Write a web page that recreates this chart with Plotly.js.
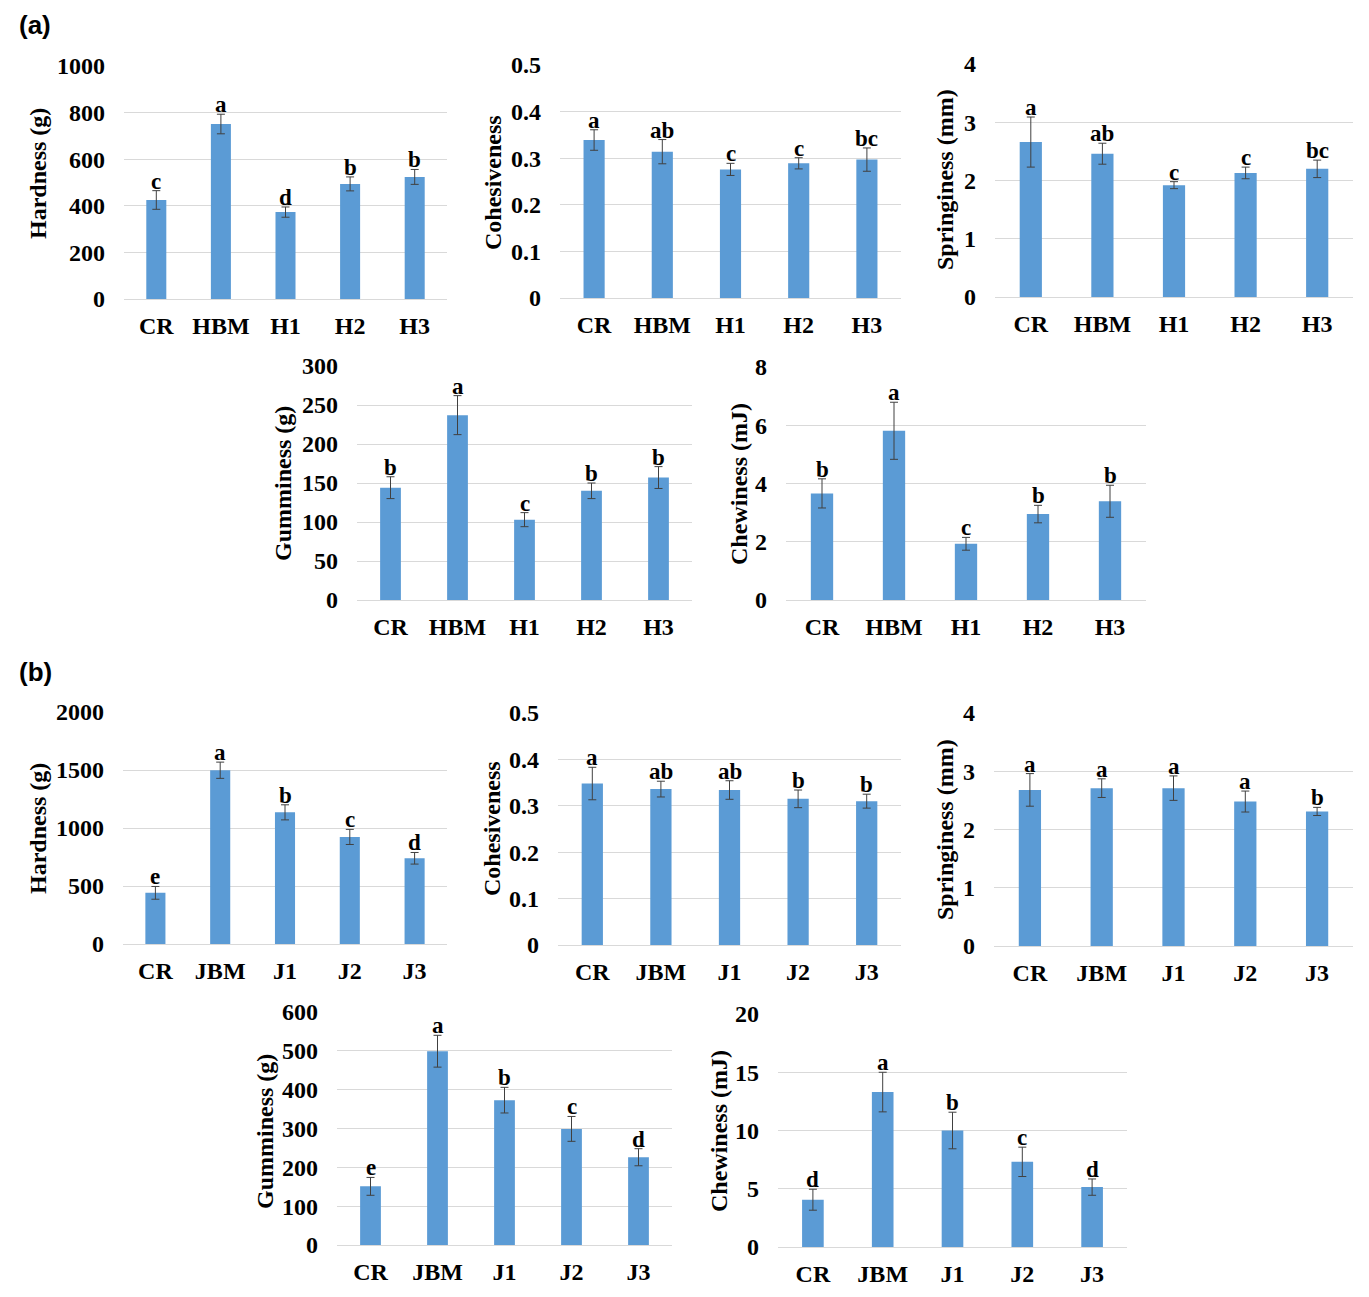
<!DOCTYPE html>
<html>
<head>
<meta charset="utf-8">
<script src="https://cdn.plot.ly/plotly-3.0.1.min.js"></script>
<style>
  html, body { margin: 0; padding: 0; background: #fff; }
  #chart { width: 1369px; height: 1297px; }
</style>
</head>
<body>
<div id="chart"></div>
<script>
  // categories
  const catsA = ["CR", "HBM", "H1", "H2", "H3"];
  const catsB = ["CR", "JBM", "J1", "J2", "J3"];

  // (a) HBM series
  const hardnessA = [425, 751, 373, 494, 524];
  const hardnessAErr = [40, 42, 22, 30, 32];
  const hardnessALetters = ["c", "a", "d", "b", "b"];

  const cohesionA = [0.339, 0.314, 0.276, 0.289, 0.297];
  const cohesionAErr = [0.022, 0.026, 0.013, 0.012, 0.025];
  const cohesionALetters = ["a", "ab", "c", "c", "bc"];

  const springA = [2.66, 2.46, 1.92, 2.13, 2.20];
  const springAErr = [0.43, 0.18, 0.06, 0.10, 0.15];
  const springALetters = ["a", "ab", "c", "c", "bc"];

  const gumA = [144, 237, 103, 140, 157];
  const gumAErr = [14, 25, 9, 10, 14];
  const gumALetters = ["b", "a", "c", "b", "b"];

  const chewA = [3.66, 5.81, 1.93, 2.95, 3.39];
  const chewAErr = [0.5, 0.98, 0.22, 0.3, 0.55];
  const chewALetters = ["b", "a", "c", "b", "b"];

  // (b) JBM series
  const hardnessB = [441, 1498, 1135, 923, 739];
  const hardnessBErr = [55, 70, 65, 65, 50];
  const hardnessBLetters = ["e", "a", "b", "c", "d"];

  const cohesionB = [0.348, 0.336, 0.334, 0.315, 0.310];
  const cohesionBErr = [0.035, 0.017, 0.02, 0.019, 0.015];
  const cohesionBLetters = ["a", "ab", "ab", "b", "b"];

  const springB = [2.68, 2.71, 2.71, 2.48, 2.31];
  const springBErr = [0.28, 0.16, 0.21, 0.18, 0.07];
  const springBLetters = ["a", "a", "a", "a", "b"];

  const gumB = [151, 499, 373, 299, 226];
  const gumBErr = [23, 41, 33, 32, 22];
  const gumBLetters = ["e", "a", "b", "c", "d"];

  const chewB = [4.06, 13.3, 10.0, 7.31, 5.14];
  const chewBErr = [0.9, 1.7, 1.57, 1.26, 0.7];
  const chewBLetters = ["d", "a", "b", "c", "d"];

  const W = 1369, H = 1297;
  const SERIF = "Liberation Serif, Times New Roman, serif";
  const BAR = "#5b9bd5";
  const GRID = "#d9d9d9";

  // box = [left, top, right, bottom] in page pixels, titleAt = [x, y] centre of the y title
  const panels = [
    { cats: catsA, vals: hardnessA, errs: hardnessAErr, letters: hardnessALetters, title: "Hardness (g)", range: [0, 1000], dtick: 200, box: [124, 66, 447, 299], titleAt: [38, 174] },
    { cats: catsA, vals: cohesionA, errs: cohesionAErr, letters: cohesionALetters, title: "Cohesiveness", range: [0, 0.5], dtick: 0.1, box: [560, 65, 901, 298], titleAt: [493, 183] },
    { cats: catsA, vals: springA, errs: springAErr, letters: springALetters, title: "Springiness (mm)", range: [0, 4], dtick: 1, box: [995, 64, 1353, 297], titleAt: [945, 180] },
    { cats: catsA, vals: gumA, errs: gumAErr, letters: gumALetters, title: "Gumminess (g)", range: [0, 300], dtick: 50, box: [357, 366, 692, 600], titleAt: [283, 484] },
    { cats: catsA, vals: chewA, errs: chewAErr, letters: chewALetters, title: "Chewiness (mJ)", range: [0, 8], dtick: 2, box: [786, 367, 1146, 600], titleAt: [739, 484] },
    { cats: catsB, vals: hardnessB, errs: hardnessBErr, letters: hardnessBLetters, title: "Hardness (g)", range: [0, 2000], dtick: 500, box: [123, 712, 447, 944], titleAt: [38, 829] },
    { cats: catsB, vals: cohesionB, errs: cohesionBErr, letters: cohesionBLetters, title: "Cohesiveness", range: [0, 0.5], dtick: 0.1, box: [558, 713, 901, 945], titleAt: [492, 829] },
    { cats: catsB, vals: springB, errs: springBErr, letters: springBLetters, title: "Springiness (mm)", range: [0, 4], dtick: 1, box: [994, 713, 1353, 946], titleAt: [945, 830] },
    { cats: catsB, vals: gumB, errs: gumBErr, letters: gumBLetters, title: "Gumminess (g)", range: [0, 600], dtick: 100, box: [337, 1012, 672, 1245], titleAt: [265, 1132] },
    { cats: catsB, vals: chewB, errs: chewBErr, letters: chewBLetters, title: "Chewiness (mJ)", range: [0, 20], dtick: 5, box: [778, 1014, 1127, 1247], titleAt: [719, 1131] }
  ];

  const traces = [];
  const annotations = [];
  const layout = {
    width: W,
    height: H,
    margin: { l: 0, r: 0, t: 0, b: 0 },
    paper_bgcolor: "#ffffff",
    plot_bgcolor: "#ffffff",
    showlegend: false,
    bargap: 0.69,
    font: { family: SERIF, size: 23, color: "#000" }
  };

  panels.forEach((p, i) => {
    const n = i + 1;
    const xk = n === 1 ? "xaxis" : "xaxis" + n;
    const yk = n === 1 ? "yaxis" : "yaxis" + n;
    const [l, t, r, b] = p.box;

    traces.push({
      type: "bar",
      x: p.cats,
      y: p.vals,
      xaxis: "x" + n,
      yaxis: "y" + n,
      marker: { color: BAR },
      error_y: {
        type: "data",
        array: p.errs,
        visible: true,
        color: "#404040",
        thickness: 1,
        width: 4
      },
      hoverinfo: "x+y"
    });

    layout[xk] = {
      domain: [l / W, r / W],
      anchor: "y" + n,
      type: "category",
      showgrid: false,
      showline: false,
      zeroline: false,
      ticks: "",
      ticklabelstandoff: 10,
      tickfont: { family: SERIF, size: 24, color: "#000", weight: "bold" },
      fixedrange: true
    };

    layout[yk] = {
      domain: [1 - b / H, 1 - t / H],
      anchor: "x" + n,
      range: p.range,
      dtick: p.dtick,
      tick0: 0,
      showgrid: true,
      gridcolor: GRID,
      gridwidth: 1,
      zeroline: true,
      zerolinecolor: GRID,
      zerolinewidth: 1,
      showline: false,
      ticks: "",
      ticklabelstandoff: 18,
      tickfont: { family: SERIF, size: 24, color: "#000", weight: "bold" },
      fixedrange: true
    };

    annotations.push({
      xref: "paper",
      yref: "paper",
      x: p.titleAt[0] / W,
      y: 1 - p.titleAt[1] / H,
      xanchor: "center",
      yanchor: "middle",
      textangle: -90,
      showarrow: false,
      text: "<b>" + p.title + "</b>",
      font: { family: SERIF, size: 24, color: "#000" }
    });

    p.cats.forEach((c, k) => {
      annotations.push({
        xref: "x" + n,
        yref: "y" + n,
        x: c,
        y: p.vals[k] + p.errs[k],
        xanchor: "center",
        yanchor: "bottom",
        yshift: -5,
        showarrow: false,
        text: "<b>" + p.letters[k] + "</b>",
        font: { family: SERIF, size: 23, color: "#000" }
      });
    });
  });

  // panel labels
  annotations.push({
    xref: "paper", yref: "paper", x: 17 / W, y: 1 - 25 / H,
    xanchor: "left", yanchor: "middle", showarrow: false,
    text: "<b>(a)</b>",
    font: { family: "Liberation Sans, Arial, sans-serif", size: 26, color: "#000" }
  });
  annotations.push({
    xref: "paper", yref: "paper", x: 17 / W, y: 1 - 672 / H,
    xanchor: "left", yanchor: "middle", showarrow: false,
    text: "<b>(b)</b>",
    font: { family: "Liberation Sans, Arial, sans-serif", size: 26, color: "#000" }
  });

  layout.annotations = annotations;

  Plotly.newPlot("chart", traces, layout, { displayModeBar: false, responsive: false, staticPlot: true });
</script>
</body>
</html>
